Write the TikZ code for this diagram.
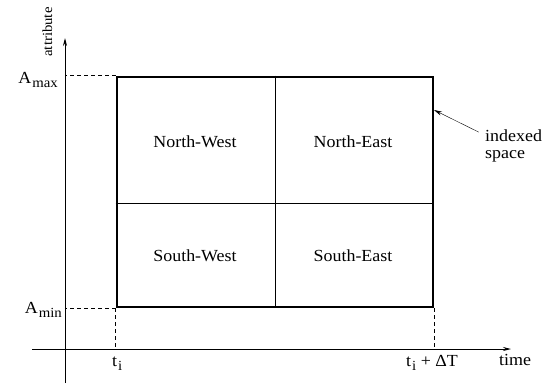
\documentclass[tikz,border=0pt]{standalone}
\usepackage{fontspec}
\setmainfont{Liberation Serif}[FakeStretch=1.06]
\usetikzlibrary{arrows.meta, positioning}

\newcommand{\lowsub}[1]{\kern1bp\raisebox{-4.5bp}{\fontsize{14}{14}\selectfont #1}}

\begin{document}
\begin{tikzpicture}[x=1bp, y=-1bp,
    lbl/.style={inner sep=0pt, font=\fontsize{17}{15}\selectfont},
    guide/.style={dash pattern=on 4bp off 3bp, line width=0.7bp},
    quad/.style={line width=0.8bp},
    >={Stealth[length=8bp, width=4bp]}]
  \useasboundingbox (0,0) rectangle (549,383);
  % axes
  \coordinate (ybot) at (65,383);
  \coordinate (ytop) at (65,38);
  \coordinate (xlft) at (32,349);
  \coordinate (xrgt) at (511,349);
  \draw[->, line width=0.9bp] (ybot) -- (ytop);
  \draw[->, line width=0.9bp] (xlft) -- (xrgt);
  % indexed space and its quadrants
  \node[draw, line width=2.6bp, minimum width=316bp, minimum height=230bp,
        inner sep=0pt] (box) at (275,192) {};
  \draw[quad] (box.north) -- (box.south);
  \draw[quad] ([yshift=-11bp]box.west) -- ([yshift=-11bp]box.east);
  \node[lbl] (nw) at (195,142) {North-West};
  \node[lbl] (ne) at (353,142) {North-East};
  \node[lbl] (sw) at (195,256) {South-West};
  \node[lbl] (se) at (353,256) {South-East};
  % guides
  \draw[guide] (box.north west) -- (box.north west -| ybot);
  \draw[guide] (box.south west) -- (box.south west -| ybot);
  \draw[guide] (box.south west) -- (box.south west |- xlft);
  \draw[guide] (box.south east) -- (box.south east |- xlft);
  % labels
  \node[lbl, anchor=base east] (amax) at (58,83) {A\lowsub{max}};
  \node[lbl, anchor=base east] (amin) at (62,313) {A\lowsub{min}};
  \node[lbl, anchor=base west] (ti) at (112,366) {t\lowsub{i}};
  \node[lbl, anchor=base west] (tidt) at (406,366) {t\lowsub{i} + ΔT};
  \node[lbl, anchor=base west] (time) at (499,365) {time};
  \node[lbl, font=\fontsize{14}{14}\selectfont, rotate=90, anchor=base] (attr) at (52,32) {attribute};
  \node[lbl, anchor=base west] (idx) at (485,141) {indexed};
  \node[lbl, anchor=base west] (spc) at (485,158) {space};
  \coordinate (hit) at (434,110);
  \draw[->, shorten <=7bp] (idx.west) -- (hit);
\end{tikzpicture}
\end{document}
